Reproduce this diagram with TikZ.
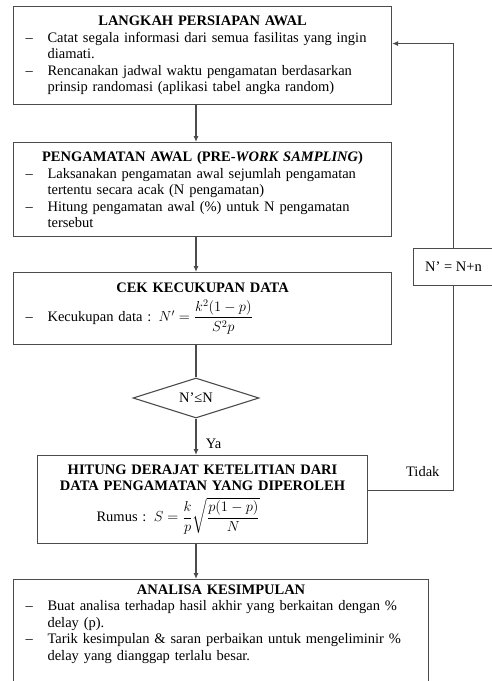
\documentclass[tikz,border=0pt]{standalone}
\usepackage{fix-cm}
\usepackage{amsmath}
\usepackage{fontspec}
\setmainfont{Liberation Serif}
\usetikzlibrary{shapes.geometric,arrows.meta}
\newcommand{\butir}[1]{\par\noindent\hangindent=22pt\hangafter=1\makebox[22pt][l]{\textendash}#1\par}
\tikzset{
  huruf/.style={font=\fontsize{14.5}{16.5}\selectfont},
  kotak/.style={draw=black!70, line width=1.1pt, anchor=north west, inner xsep=12pt, inner ysep=5pt, huruf},
  alur/.style={draw=black!70, line width=1.1pt, -{Latex[length=6pt,width=5pt]}},
  garis/.style={draw=black!70, line width=1.1pt},
}
\begin{document}
\begin{tikzpicture}[x=1pt,y=-1pt]
  \useasboundingbox (0,0) rectangle (492,681);

  \node[kotak, text width=354pt, minimum height=98pt] (persiapan) at (13,6)
  {{\centering\textbf{LANGKAH PERSIAPAN AWAL}\par}\raggedright
   \butir{Catat segala informasi dari semua fasilitas yang ingin\newline diamati.}
   \butir{Rencanakan jadwal waktu pengamatan berdasarkan\newline prinsip randomasi (aplikasi tabel angka random)}};

  \node[kotak, text width=354pt, minimum height=94pt] (awal) at (13,142)
  {{\centering\textbf{PENGAMATAN AWAL (PRE-\textit{WORK SAMPLING})}\par}\raggedright
   \butir{Laksanakan pengamatan awal sejumlah pengamatan\newline tertentu secara acak (N pengamatan)}
   \butir{Hitung pengamatan awal (\%) untuk N pengamatan\newline tersebut}};

  \node[kotak, text width=354pt, minimum height=72pt] (cek) at (13,272)
  {{\centering\textbf{CEK KECUKUPAN DATA}\par}\vspace{6pt}\raggedright
   \butir{Kecukupan data : $N' = \dfrac{k^2(1-p)}{S^2p}$}};

  \node[draw=black!70, line width=1.1pt, diamond, aspect=3.2, inner sep=1pt,
        minimum width=126pt, minimum height=40pt, huruf] (keputusan) at (196,398) {N'≤N};

  \node[kotak, text width=306pt, minimum height=88pt] (hitung) at (37,455)
  {{\centering\textbf{HITUNG DERAJAT KETELITIAN DARI}\\\textbf{DATA PENGAMATAN YANG DIPEROLEH}\par}
   \vspace{6pt}\noindent\hspace*{47pt}Rumus : $S = \dfrac{k}{p}\sqrt{\dfrac{p(1-p)}{N}}$\par};

  \node[kotak, text width=391pt] (analisa) at (13,579)
  {{\centering\textbf{ANALISA KESIMPULAN}\par}\raggedright
   \butir{Buat analisa terhadap hasil akhir yang berkaitan dengan \%\newline delay (p).}
   \butir{Tarik kesimpulan \& saran perbaikan untuk mengeliminir \%\newline delay yang dianggap terlalu besar.}
   \rule{0pt}{16pt}\par};

  \node[kotak, minimum width=80pt, minimum height=37pt, inner xsep=4pt] (tambah) at (413,248) {N' = N+n};

  \draw[alur] (persiapan.south -| keputusan) -- (awal.north -| keputusan);
  \draw[alur] (awal.south -| keputusan) -- (cek.north -| keputusan);
  \draw[garis] (cek.south -| keputusan) -- (keputusan.north);
  \draw[alur] (keputusan.south) -- node[pos=0.68, right=6pt, huruf]{Ya}
    (hitung.north -| keputusan);
  \draw[alur] (hitung.south -| keputusan) -- (analisa.north -| keputusan);
  \draw[garis] ([yshift=9pt]hitung.east) -| node[pos=0.32, above=10pt, huruf]{Tidak}
    (tambah.south);
  \draw[alur] (tambah.north) |- ([yshift=12pt]persiapan.east);
\end{tikzpicture}
\end{document}
